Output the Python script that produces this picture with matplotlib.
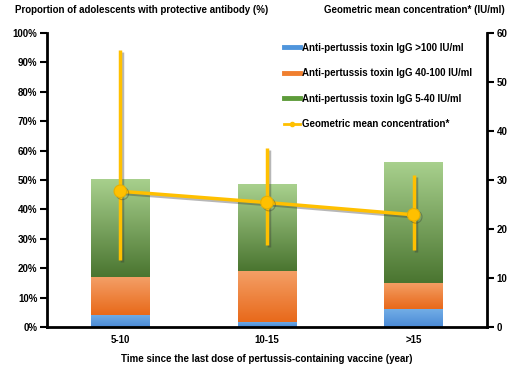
import matplotlib
matplotlib.use("Agg")
import matplotlib.pyplot as plt
import matplotlib.patheffects as pe
from matplotlib.colors import LinearSegmentedColormap
from matplotlib.lines import Line2D
import numpy as np

plt.rcParams['font.family'] = ['Liberation Sans', 'DejaVu Sans']
plt.rcParams['font.weight'] = 'bold'

categories = ['5-10', '10-15', '>15']
igg_over_100 = [4.2, 1.8, 6.0]
igg_40_100 = [12.7, 17.3, 8.9]
igg_5_40 = [33.4, 29.5, 41.3]
gmc = [27.7, 25.4, 22.9]
gmc_low = [13.7, 16.7, 15.7]
gmc_high = [56.5, 36.5, 31.0]

left_ticks = [0, 10, 20, 30, 40, 50, 60, 70, 80, 90, 100]
right_ticks = [0, 10, 20, 30, 40, 50, 60]

series = [
    (igg_over_100, 'Anti-pertussis toxin IgG >100 IU/ml', '#4f95dc', ('#72ade6', '#4a8ad6')),
    (igg_40_100, 'Anti-pertussis toxin IgG 40-100 IU/ml', '#f07f2f', ('#f49f66', '#e8691a')),
    (igg_5_40, 'Anti-pertussis toxin IgG 5-40 IU/ml', '#5d9b3a', ('#a9d18e', '#4a7530')),
]
gold = '#ffc000'

fig = plt.figure(figsize=(5.15, 3.69), dpi=100)
ax = fig.add_axes([47 / 515, 1 - 327 / 369, 440 / 515, 294 / 369])
x = np.arange(len(categories))
width = 0.4

bottom = np.zeros(len(categories))
grad = np.linspace(1, 0, 256).reshape(-1, 1)
for vals, label, solid, (top_c, bot_c) in series:
    cmap = LinearSegmentedColormap.from_list('g', [bot_c, top_c])
    bars = ax.bar(x, vals, width, bottom=bottom, color=solid, linewidth=0, zorder=2)
    for rect in bars:
        x0, y0 = rect.get_x(), rect.get_y()
        w, h = rect.get_width(), rect.get_height()
        im = ax.imshow(grad, extent=(x0, x0 + w, y0, y0 + h), aspect='auto',
                       cmap=cmap, zorder=2.1, interpolation='bicubic')
        im.set_clip_path(rect)
    bottom = bottom + np.array(vals)

ax.set_xlim(-0.5, 2.5)
ax.set_ylim(0, 100)
ax.set_yticks(left_ticks)
ax.set_yticklabels([f'{t}%' for t in left_ticks])
ax.set_xticks(x)
ax.set_xticklabels(categories)
ax.tick_params(axis='x', length=0, pad=6, labelsize=7)
ax.tick_params(axis='y', direction='out', length=5, width=1.5, labelsize=7, pad=2)
for s in ['left', 'bottom']:
    ax.spines[s].set_linewidth(2)
ax.spines['top'].set_visible(False)
ax.spines['right'].set_visible(False)
ax.set_xlabel('Time since the last dose of pertussis-containing vaccine (year)',
              fontsize=7, fontweight='bold', labelpad=6)

ax2 = ax.twinx()
ax2.set_ylim(0, 60)
ax2.set_yticks(right_ticks)
ax2.tick_params(axis='y', direction='out', length=5, width=1.5, labelsize=7, pad=2)
ax2.spines['right'].set_linewidth(2)
for s in ['left', 'bottom', 'top']:
    ax2.spines[s].set_visible(False)

shadow = [pe.SimpleLineShadow(offset=(1.5, -1.5), shadow_color='#333333', alpha=0.35), pe.Normal()]
lower = np.array(gmc) - np.array(gmc_low)
upper = np.array(gmc_high) - np.array(gmc)
eb = ax2.errorbar(x, gmc, yerr=[lower, upper], fmt='none', ecolor=gold, elinewidth=2.5,
                  capsize=0, zorder=3)
for c in eb.lines[2]:
    c.set_path_effects(shadow)
ax2.plot(x, gmc, color=gold, lw=2.5, marker='o', markersize=9, markeredgecolor='#e8b000',
         markeredgewidth=0.8, zorder=4, path_effects=shadow)

handles = [Line2D([0], [0], color=s[2], lw=3.5) for s in series]
handles.append(Line2D([0], [0], color=gold, lw=2, marker='o', markersize=3))
labels = [s[1] for s in series] + ['Geometric mean concentration*']
ax2.legend(handles, labels, loc='upper left', bbox_to_anchor=(0.53, 0.98), frameon=False,
           fontsize=7, handlelength=1.6, handletextpad=0.2, labelspacing=1.6,
           borderaxespad=0)

fig.text(15 / 515, 1 - 10 / 369, 'Proportion of adolescents with protective antibody (%)',
         fontsize=7, fontweight='bold', ha='left', va='center')
fig.text(505 / 515, 1 - 10 / 369, 'Geometric mean concentration* (IU/ml)',
         fontsize=7, fontweight='bold', ha='right', va='center')

fig.savefig('out.png', dpi=100)
